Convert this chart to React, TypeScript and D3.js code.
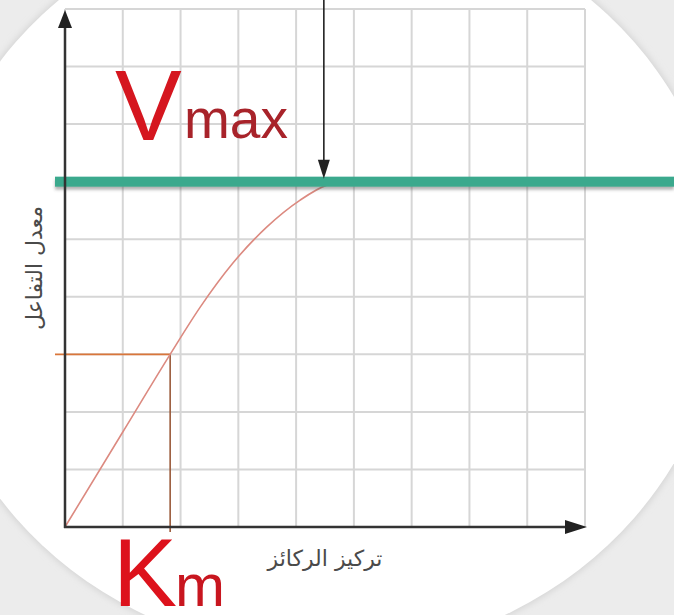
import React from "react";
import * as d3 from "d3";

// Michaelis–Menten style saturation curve: substrate concentration vs reaction rate
const gridTicks = [0, 1, 2, 3, 4, 5, 6, 7, 8, 9];
const curveX = [0, 1, 1.82, 2.34, 2.91, 3.49, 4.07, 4.53, 4.88, 8];
const curveY = [0, 1.65, 3, 3.82, 4.59, 5.21, 5.68, 5.94, 6, 6];
const vmax = 6;
const km = 1.82;
const halfVmax = vmax / 2;
const plateauMarkX = 4.48;
const xLabel = "تركيز الركائز";
const yLabel = "معدل التفاعل";

const W = 674;
const H = 615;

export default function App() {
  const x = d3.scaleLinear().domain([0, 9]).range([65, 585]);
  const y = d3.scaleLinear().domain([0, 9]).range([527, 9]);

  const points: [number, number][] = curveX.map((v, i) => [v, curveY[i]]);
  const line = d3
    .line<[number, number]>()
    .x((d) => x(d[0]))
    .y((d) => y(d[1]))
    .curve(d3.curveMonotoneX);

  const x0 = x(0);
  const y0 = y(0);
  const xEnd = x(9);
  const yTop = y(9);
  const band = 10;

  return (
    <svg
      width={W}
      height={H}
      viewBox={`0 0 ${W} ${H}`}
      style={{ position: "absolute", left: 0, top: 0, display: "block" }}
    >
      <defs>
        <filter id="soft" x="-10%" y="-10%" width="120%" height="120%">
          <feGaussianBlur stdDeviation="3" />
        </filter>
        <filter id="bandShadow" filterUnits="userSpaceOnUse" x="0" y="150" width={W} height="60">
          <feDropShadow dx="0" dy="3" stdDeviation="1.5" floodColor="#555" floodOpacity="0.45" />
        </filter>
      </defs>

      {/* backdrop */}
      <rect x={0} y={0} width={W} height={H} fill="#ececec" />
      <ellipse cx={325} cy={280} rx={402} ry={377} fill="#d6d6d6" filter="url(#soft)" />
      <ellipse cx={325} cy={280} rx={400} ry={375} fill="#ffffff" />

      {/* grid */}
      <g stroke="#d6d6d6" strokeWidth={2}>
        {gridTicks.map((t) => (
          <line key={"v" + t} x1={x(t)} x2={x(t)} y1={yTop} y2={y0} />
        ))}
        {gridTicks.map((t) => (
          <line key={"h" + t} x1={x0} x2={xEnd} y1={y(t)} y2={y(t)} />
        ))}
      </g>

      {/* Km guide lines */}
      <line x1={x0 - 10} x2={x(km)} y1={y(halfVmax)} y2={y(halfVmax)} stroke="#d9763a" strokeWidth={1.6} />
      <line x1={x(km)} x2={x(km)} y1={y(halfVmax)} y2={y0 + 5} stroke="#9a5a3a" strokeWidth={1.6} />

      {/* rate curve */}
      <path d={line(points) ?? ""} fill="none" stroke="#dc8a80" strokeWidth={1.6} />

      {/* Vmax level */}
      <rect
        x={x0 - 10}
        y={y(vmax) - band / 2}
        width={W - (x0 - 10)}
        height={band}
        fill="#3aa98d"
        filter="url(#bandShadow)"
      />

      {/* axes with arrowheads */}
      <line x1={x0} x2={x0} y1={y0 + 1} y2={yTop + 10} stroke="#333" strokeWidth={2.5} />
      <path d={`M${x0},${yTop + 1} L${x0 - 7},${yTop + 19} L${x0 + 7},${yTop + 19} Z`} fill="#222" />
      <line x1={x0 - 1} x2={xEnd - 10} y1={y0} y2={y0} stroke="#333" strokeWidth={2.5} />
      <path d={`M${xEnd + 2},${y0} L${xEnd - 20},${y0 - 7} L${xEnd - 20},${y0 + 7} Z`} fill="#222" />

      {/* arrow pointing to the plateau */}
      <line x1={x(plateauMarkX)} x2={x(plateauMarkX)} y1={0} y2={y(vmax) - 12} stroke="#222" strokeWidth={1.6} />
      <path
        d={`M${x(plateauMarkX)},${y(vmax) - 3} L${x(plateauMarkX) - 6},${y(vmax) - 22} L${x(plateauMarkX) + 6},${y(vmax) - 22} Z`}
        fill="#222"
      />

      {/* labels */}
      <text x={115} y={140} fontFamily="Liberation Sans, Arial, sans-serif" fontSize={100} fill="#d5161f">
        V
      </text>
      <text x={184} y={138} fontFamily="Liberation Sans, Arial, sans-serif" fontSize={55} fill="#a8232a">
        max
      </text>
      <text x={113} y={606} fontFamily="Liberation Sans, Arial, sans-serif" fontSize={96} fill="#dd121c">
        K
      </text>
      <text x={175} y={606} fontFamily="Liberation Sans, Arial, sans-serif" fontSize={60} fill="#c8161f">
        m
      </text>

      <text
        x={325}
        y={566}
        textAnchor="middle"
        direction="rtl"
        fontFamily="DejaVu Sans, sans-serif"
        fontSize={22}
        fill="#4a4a4a"
      >
        {xLabel}
      </text>
      <text
        transform={`translate(42, 268) rotate(-90)`}
        textAnchor="middle"
        direction="rtl"
        fontFamily="DejaVu Sans, sans-serif"
        fontSize={22}
        fill="#4a4a4a"
      >
        {yLabel}
      </text>
    </svg>
  );
}
